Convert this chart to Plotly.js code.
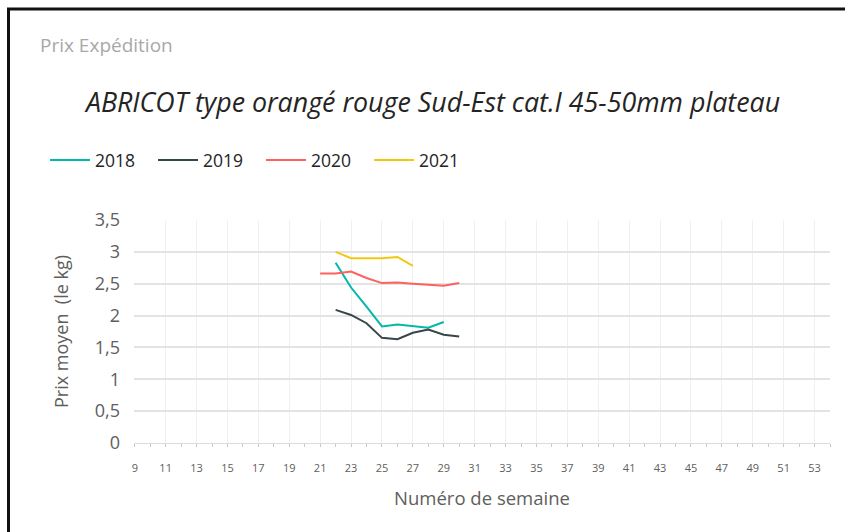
<!DOCTYPE html>
<html>
<head>
<meta charset="utf-8">
<script src="https://cdn.plot.ly/plotly-3.0.1.min.js"></script>
<style>
html,body{margin:0;padding:0;background:#fff;}
#chart{width:845px;height:532px;}
</style>
</head>
<body>
<div id="chart"></div>
<script>
// ---- data ----
const seriesNames = ["2018", "2019", "2020", "2021"];
const weeks2018 = [22, 23, 24, 25, 26, 27, 28, 29];
const prices2018 = [2.83, 2.44, 2.14, 1.83, 1.86, 1.83, 1.81, 1.90];
const weeks2019 = [22, 23, 24, 25, 26, 27, 28, 29, 30];
const prices2019 = [2.09, 2.01, 1.88, 1.65, 1.63, 1.73, 1.78, 1.70, 1.67];
const weeks2020 = [21, 22, 23, 24, 25, 26, 27, 28, 29, 30];
const prices2020 = [2.66, 2.66, 2.69, 2.59, 2.51, 2.52, 2.50, 2.48, 2.47, 2.51];
const weeks2021 = [22, 23, 24, 25, 26, 27];
const prices2021 = [3.00, 2.90, 2.90, 2.90, 2.92, 2.78];
const xTickVals = [9,11,13,15,17,19,21,23,25,27,29,31,33,35,37,39,41,43,45,47,49,51,53];
const yTickVals = [0, 0.5, 1, 1.5, 2, 2.5, 3, 3.5];
const yTickText = ["0", "0,5", "1", "1,5", "2", "2,5", "3", "3,5"];

const colors = ["#01B8AA", "#374649", "#FD625E", "#F2C80F"];
const xs = [weeks2018, weeks2019, weeks2020, weeks2021];
const ys = [prices2018, prices2019, prices2020, prices2021];

const FONT = "'Open Sans', 'Noto Sans', sans-serif";

const traces = seriesNames.map((n, i) => ({
  type: "scatter",
  mode: "lines",
  name: n,
  x: xs[i],
  y: ys[i],
  line: {color: colors[i], width: 2},
  hoverinfo: "x+y+name"
}));

// plot area geometry (pixels)
const L = 134, R = 15, T = 220, B = 89;
const W = 845 - L - R, H = 532 - T - B;
const px = v => (v - L) / W;
const py = v => (532 - B - v) / H;

const layout = {
  width: 845,
  height: 532,
  margin: {l: L, r: R, t: T, b: B, pad: 0},
  paper_bgcolor: "#ffffff",
  plot_bgcolor: "#ffffff",
  font: {family: FONT, color: "#666666"},
  title: {
    text: "<i>ABRICOT type orangé rouge Sud-Est cat.I 45-50mm plateau</i>",
    font: {family: FONT, size: 26.8, color: "#252423"},
    xref: "container", yref: "container",
    x: 433 / 845, xanchor: "center",
    y: 1 - 103 / 532, yanchor: "middle"
  },
  showlegend: true,
  legend: {
    orientation: "h",
    x: px(45), xanchor: "left",
    y: py(160), yanchor: "middle",
    font: {family: FONT, size: 17.5, color: "#252423"},
    itemwidth: 40,
    entrywidth: 53,
    entrywidthmode: "pixels",
    traceorder: "normal",
    bgcolor: "rgba(0,0,0,0)"
  },
  xaxis: {
    range: [8.95, 54],
    tickmode: "array",
    tickvals: xTickVals,
    ticktext: xTickVals.map(String),
    tickfont: {family: FONT, size: 11, color: "#605E5C"},
    ticks: "outside",
    ticklen: 3,
    tickcolor: "#c8c8c8",
    minor: {dtick: 1, tick0: 9, ticks: "outside", ticklen: 3, tickcolor: "#c8c8c8", showgrid: false},
    showgrid: true,
    gridcolor: "#f0f0f0",
    gridwidth: 1,
    zeroline: false,
    showline: true,
    linecolor: "#dcdcdc",
    linewidth: 1,
    ticklabelstandoff: 12,
    title: {
      text: "Numéro de semaine",
      font: {family: FONT, size: 18.5, color: "#605E5C"},
      standoff: 17
    },
    fixedrange: true
  },
  yaxis: {
    range: [0, 3.5],
    tickmode: "array",
    tickvals: yTickVals,
    ticktext: yTickText,
    tickfont: {family: FONT, size: 18, color: "#605E5C"},
    ticks: "",
    showgrid: true,
    gridcolor: "#e3e3e3",
    gridwidth: 1.5,
    zeroline: false,
    showline: false,
    ticklabelstandoff: 13,
    title: {
      text: "Prix moyen  (le kg)",
      font: {family: FONT, size: 18, color: "#605E5C"},
      standoff: 21
    },
    fixedrange: true
  },
  annotations: [{
    text: "Prix Expédition",
    xref: "paper", yref: "paper",
    x: px(38), y: py(45),
    xanchor: "left", yanchor: "middle",
    showarrow: false,
    font: {family: FONT, size: 19, color: "#a8a8a8"}
  }],
  shapes: [
    {type: "line", xref: "paper", yref: "paper",
     x0: px(7), x1: px(845), y0: py(9), y1: py(9),
     line: {color: "#111111", width: 3}},
    {type: "line", xref: "paper", yref: "paper",
     x0: px(8.5), x1: px(8.5), y0: py(8), y1: py(532),
     line: {color: "#111111", width: 3}}
  ]
};

Plotly.newPlot("chart", traces, layout, {displayModeBar: false, staticPlot: false});
</script>
</body>
</html>
